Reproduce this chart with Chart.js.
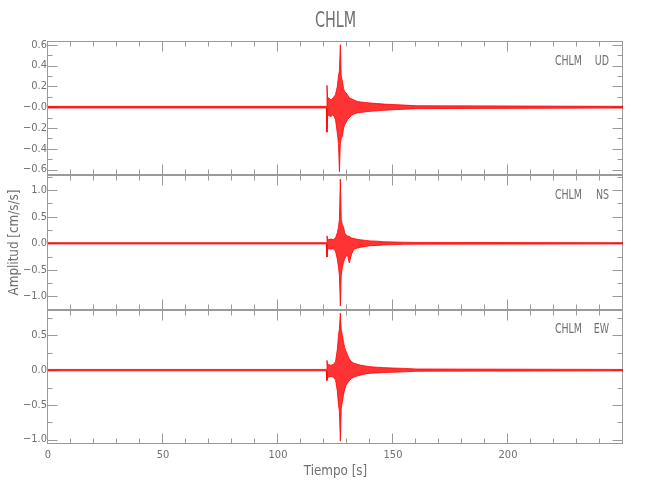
<!DOCTYPE html>
<html lang="es">
<head>
<meta charset="utf-8">
<title>CHLM</title>
<script src="https://cdn.jsdelivr.net/npm/chart.js@4.4.0/dist/chart.umd.min.js"></script>
<style>
  body { margin: 0; background: #fff; }
  canvas { display: block; }
</style>
</head>
<body>
<canvas id="grafico" width="650" height="500"></canvas>
<script>
// Tiempos (s) donde se leyó la envolvente de cada componente
const tiempo = [0, 121.0, 121.3, 121.6, 122.0, 123.0, 124.0, 125.0, 125.8, 126.3, 126.7, 127.1, 127.5, 128.0, 128.5,
  129.0, 129.5, 130.2, 131.0, 132.0, 133.0, 134.5, 136.0, 138.0, 140.0, 143.0, 146.0, 150.0, 155.0, 160.0, 250];

// Envolvente superior / inferior de cada componente [cm/s/s]
const udMax = [0.008, 0.008, 0.21, 0.08, 0.09, 0.07, 0.09, 0.12, 0.2, 0.3, 0.35, 0.60, 0.3, 0.25, 0.18,
  0.15, 0.14, 0.12, 0.09, 0.08, 0.07, 0.055, 0.05, 0.045, 0.04, 0.035, 0.03, 0.025, 0.02, 0.014, 0.008];
const udMin = [-0.008, -0.008, -0.24, -0.09, -0.08, -0.09, -0.07, -0.12, -0.25, -0.35, -0.62, -0.35, -0.3, -0.28, -0.2,
  -0.17, -0.15, -0.12, -0.1, -0.08, -0.065, -0.055, -0.05, -0.045, -0.04, -0.035, -0.03, -0.025, -0.02, -0.014, -0.008];

const nsMax = [0.012, 0.012, 0.14, 0.08, 0.07, 0.08, 0.07, 0.1, 0.2, 0.3, 0.45, 1.21, 0.45, 0.35, 0.3,
  0.2, 0.16, 0.14, 0.13, 0.1, 0.09, 0.075, 0.065, 0.055, 0.045, 0.04, 0.03, 0.025, 0.02, 0.016, 0.012];
const nsMin = [-0.012, -0.012, -0.26, -0.12, -0.1, -0.11, -0.1, -0.15, -0.3, -0.45, -0.6, -1.18, -0.6, -0.45, -0.35,
  -0.3, -0.25, -0.22, -0.37, -0.2, -0.11, -0.09, -0.075, -0.06, -0.045, -0.04, -0.03, -0.025, -0.02, -0.016, -0.012];

const ewMax = [0.01, 0.01, 0.14, 0.07, 0.08, 0.07, 0.08, 0.12, 0.3, 0.5, 0.6, 0.82, 0.58, 0.5, 0.4,
  0.32, 0.28, 0.22, 0.16, 0.12, 0.1, 0.085, 0.07, 0.06, 0.05, 0.042, 0.036, 0.03, 0.025, 0.016, 0.01];
const ewMin = [-0.01, -0.01, -0.15, -0.09, -0.1, -0.09, -0.1, -0.14, -0.3, -0.5, -0.6, -1.02, -0.55, -0.45, -0.35,
  -0.28, -0.22, -0.19, -0.15, -0.12, -0.1, -0.085, -0.07, -0.055, -0.045, -0.04, -0.035, -0.03, -0.025, -0.016, -0.01];

// Eje X
const xRango = [0, 250];
const xMayores = [0, 50, 100, 150, 200, 250];
const xEtiquetas = [0, 50, 100, 150, 200];
const xMenores = [10, 20, 30, 40, 60, 70, 80, 90, 110, 120, 130, 140, 160, 170, 180, 190, 210, 220, 230, 240];

// Ejes Y de cada panel
const udRango = [-0.655, 0.636];
const udTicks = [0.6, 0.4, 0.2, 0, -0.2, -0.4, -0.6];
const udEtiquetas = ['0.6', '0.4', '0.2', '\u22120.0', '\u22120.2', '\u22120.4', '\u22120.6'];
const udMenores = [0.5, 0.3, 0.1, -0.1, -0.3, -0.5];

const nsRango = [-1.25, 1.28];
const nsTicks = [1.0, 0.5, 0, -0.5, -1.0];
const nsEtiquetas = ['1.0', '0.5', '0.0', '\u22120.5', '\u22121.0'];
const nsMenores = [1.25, 0.75, 0.25, -0.25, -0.75];

const ewRango = [-1.063, 0.87];
const ewTicks = [0.5, 0, -0.5, -1.0];
const ewEtiquetas = ['0.5', '0.0', '\u22120.5', '\u22121.0'];
const ewMenores = [0.75, 0.25, -0.25, -0.75];

const estacion = 'CHLM';
const titulo = 'CHLM';
const tituloX = 'Tiempo [s]';
const tituloY = 'Amplitud [cm/s/s]';

// Paneles de arriba hacia abajo
const paneles = [
  { id: 'yUD', canal: 'UD', max: udMax, min: udMin, rango: udRango, ticks: udTicks, etiquetas: udEtiquetas, menores: udMenores },
  { id: 'yNS', canal: 'NS', max: nsMax, min: nsMin, rango: nsRango, ticks: nsTicks, etiquetas: nsEtiquetas, menores: nsMenores },
  { id: 'yEW', canal: 'EW', max: ewMax, min: ewMin, rango: ewRango, ticks: ewTicks, etiquetas: ewEtiquetas, menores: ewMenores }
];

const fuente = "'Liberation Sans Narrow', 'DejaVu Sans Condensed', 'Liberation Sans', sans-serif";
const colorEje = '#9a9a9a';
const colorTexto = '#707070';
const rojo = '#ff0000';

// Texto con escala horizontal (la fuente original es muy estrecha)
function texto(ctx, str, x, y, size, escala, align) {
  ctx.save();
  ctx.translate(x, y);
  ctx.scale(escala, 1);
  ctx.font = size + 'px ' + fuente;
  ctx.fillStyle = colorTexto;
  ctx.textAlign = align;
  ctx.textBaseline = 'middle';
  ctx.fillText(str, 0, 0);
  ctx.restore();
}

function linea(ctx, x1, y1, x2, y2) {
  ctx.beginPath();
  ctx.moveTo(x1, y1);
  ctx.lineTo(x2, y2);
  ctx.stroke();
}

// Marco y marcas hacia adentro de cada panel
const marcoPaneles = {
  id: 'marcoPaneles',
  beforeDatasetsDraw(chart) {
    const { ctx, chartArea: a, scales } = chart;
    const xs = scales.x;
    ctx.save();
    ctx.strokeStyle = colorEje;
    ctx.lineWidth = 1;
    paneles.forEach(p => {
      const ys = scales[p.id];
      const arriba = Math.round(ys.top) + 0.5;
      const abajo = Math.round(ys.bottom) - 0.5;
      const izq = Math.round(a.left) - 0.5;
      const der = Math.round(a.right) - 0.5;
      ctx.strokeRect(izq, arriba, der - izq, abajo - arriba);

      p.ticks.forEach(v => {
        const y = Math.round(ys.getPixelForValue(v)) + 0.5;
        linea(ctx, izq, y, izq + 10, y);
        linea(ctx, der - 10, y, der, y);
      });
      p.menores.forEach(v => {
        const y = Math.round(ys.getPixelForValue(v)) + 0.5;
        linea(ctx, izq, y, izq + 5, y);
        linea(ctx, der - 5, y, der, y);
      });
      xMayores.forEach(v => {
        const x = Math.round(xs.getPixelForValue(v)) - 0.5;
        linea(ctx, x, arriba, x, arriba + 10);
        linea(ctx, x, abajo - 10, x, abajo);
      });
      xMenores.forEach(v => {
        const x = Math.round(xs.getPixelForValue(v)) - 0.5;
        linea(ctx, x, arriba, x, arriba + 5);
        linea(ctx, x, abajo - 5, x, abajo);
      });
    });
    ctx.restore();
  },
  afterDraw(chart) {
    const { ctx, chartArea: a, scales } = chart;
    const centro = (a.left + a.right) / 2;
    texto(ctx, titulo, centro, 22, 21, 0.76, 'center');
    texto(ctx, tituloX, centro, 471, 14, 0.95, 'center');

    ctx.save();
    ctx.translate(14, (a.top + a.bottom) / 2);
    ctx.rotate(-Math.PI / 2);
    texto(ctx, tituloY, 0, 0, 14, 0.95, 'center');
    ctx.restore();

    paneles.forEach(p => {
      const ys = scales[p.id];
      texto(ctx, estacion, a.right - 41, ys.top + 20, 14, 0.75, 'right');
      texto(ctx, p.canal, a.right - 14, ys.top + 20, 14, 0.75, 'right');
    });
  }
};

// Datos: banda roja entre envolvente superior e inferior
const datasets = paneles.flatMap(p => [
  {
    label: p.canal + ' max',
    data: tiempo.map((t, i) => ({ x: t, y: p.max[i] })),
    yAxisID: p.id,
    borderColor: rojo,
    borderWidth: 0.8,
    backgroundColor: 'rgba(255, 0, 0, 0.8)',
    fill: '+1',
    pointRadius: 0,
    tension: 0
  },
  {
    label: p.canal + ' min',
    data: tiempo.map((t, i) => ({ x: t, y: p.min[i] })),
    yAxisID: p.id,
    borderColor: rojo,
    borderWidth: 0.8,
    fill: false,
    pointRadius: 0,
    tension: 0
  }
]);

const escalas = {
  x: {
    type: 'linear',
    min: xRango[0],
    max: xRango[1],
    grid: { display: false, drawTicks: false },
    border: { display: false },
    ticks: { color: colorTexto, font: { family: fuente, size: 11 }, padding: 5, maxRotation: 0, autoSkip: false },
    afterBuildTicks: s => { s.ticks = xEtiquetas.map(v => ({ value: v })); },
    afterFit: s => { s.height = 56; }
  }
};

// Los ejes apilados se colocan de arriba hacia abajo en orden inverso al declarado
paneles.slice().reverse().forEach(p => {
  escalas[p.id] = {
    type: 'linear',
    position: 'left',
    stack: 'paneles',
    stackWeight: 1,
    min: p.rango[0],
    max: p.rango[1],
    grid: { display: false, drawTicks: false },
    border: { display: false },
    ticks: {
      color: colorTexto,
      font: { family: fuente, size: 11 },
      padding: 1,
      autoSkip: false,
      callback: (v, i) => p.etiquetas[i]
    },
    afterBuildTicks: s => { s.ticks = p.ticks.map(v => ({ value: v })); },
    afterFit: s => { s.width = 48; }
  };
});

new Chart(document.getElementById('grafico'), {
  type: 'line',
  data: { datasets },
  options: {
    responsive: false,
    animation: false,
    devicePixelRatio: 1,
    layout: { padding: { top: 41, right: 27, left: 0, bottom: 0 } },
    plugins: { legend: { display: false }, title: { display: false }, tooltip: { enabled: false } },
    scales: escalas
  },
  plugins: [marcoPaneles]
});
</script>
</body>
</html>
